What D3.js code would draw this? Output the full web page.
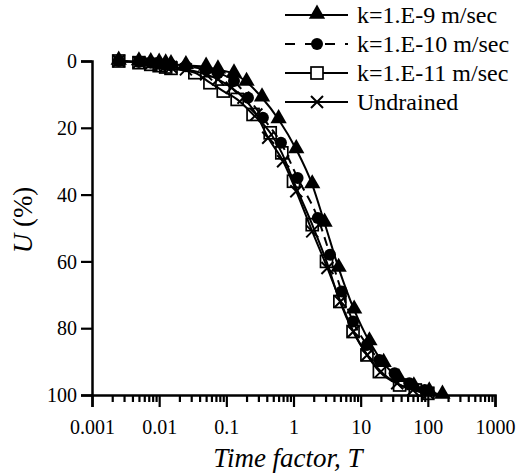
<!DOCTYPE html>
<html lang="en">
    <head>
        <meta charset="utf-8">
        <title>Degree of consolidation</title>
        <script type="text/javascript" src="https://cdnjs.cloudflare.com/ajax/libs/d3/7.8.5/d3.min.js"></script>
        <style type="text/css">
            body { margin: 0; background: #fff; }
        </style>
    </head>
    <body>
        <script type="text/javascript">
            // data: [time factor T, U (%)]
            var seriesNames = ["k=1.E-9 m/sec", "k=1.E-10 m/sec", "k=1.E-11 m/sec", "Undrained"];

            var k9 = [[0.0025,0],[0.005,0.2],[0.0075,0.4],[0.01,0.6],[0.0125,0.8],[0.015,1],[0.025,1.3],
                      [0.05,1.8],[0.075,2.6],[0.13,3.8],[0.2,6.3],[0.34,11],[0.6,17.5],[1.1,26.5],[1.9,37],
                      [2.9,48.5],[4.7,62],[8,74.5],[13.5,84],[22,90.5],[37,95],[62,97.5],[105,99],[165,100]];

            var k10 = [[0.0025,0],[0.005,0.3],[0.0075,0.5],[0.01,0.8],[0.0125,1],[0.015,1.2],[0.025,1.6],
                       [0.05,2.6],[0.075,3.6],[0.13,6],[0.21,11],[0.35,17],[0.65,24.5],[1.15,35],[2.3,47],
                       [3.5,58],[5.2,69],[7.7,78],[12.4,85],[19,89.5],[32,93.5],[53,96.5],[90,98.5]];

            var k11 = [[0.0025,0],[0.005,0.5],[0.0075,1],[0.01,1.4],[0.0125,1.8],[0.015,2.2],[0.034,3.5],
                       [0.057,6.5],[0.09,9],[0.145,11.5],[0.25,16],[0.45,21.5],[0.67,27.5],[1.0,36],[1.9,49],
                       [3.1,60],[4.9,72],[7.7,81],[12.4,88],[19,93],[38,97],[65,98.5],[100,99.5]];

            var undrained = [[0.0025,0],[0.005,0.4],[0.0075,0.8],[0.01,1.2],[0.0125,1.5],[0.015,1.8],[0.025,2.5],
                             [0.05,4],[0.075,5.5],[0.12,8],[0.18,11],[0.28,16],[0.42,23],[0.7,30],[1.1,39],
                             [1.9,51],[3.2,62],[5,72],[7.8,81],[12.5,88],[20,93],[35,96.5],[60,98.5],[100,99.5]];

            var xTicks = [0.001, 0.01, 0.1, 1, 10, 100, 1000];
            var xTickLabels = ["0.001", "0.01", "0.1", "1", "10", "100", "1000"];
            var yTicks = [0, 20, 40, 60, 80, 100];

            var w = 526;
            var h = 476;

            var svg = d3.select("body")
                        .append("svg")
                        .attr("width", w)
                        .attr("height", h)
                        .attr("font-family", "Liberation Serif");

            var x = d3.scaleLog().domain([0.001, 1000]).range([92, 495]);
            var y = d3.scaleLinear().domain([0, 100]).range([61, 395]);

            // y axis
            var yAxis = svg.append("g")
                .attr("transform", "translate(92,0)")
                .call(d3.axisLeft(y).tickValues(yTicks).tickSize(11).tickPadding(4).tickFormat(d3.format("d")));
            yAxis.selectAll("text").attr("font-size", "20px").attr("dy", "0.33em");

            // x axis: minor ticks then majors with labels
            var minor = x.ticks().filter(function (d) { return xTicks.indexOf(d) < 0; });
            svg.append("g")
                .attr("transform", "translate(0,395)")
                .call(d3.axisBottom(x).tickValues(minor).tickSize(7).tickFormat(""))
                .select(".domain").remove();
            var xAxis = svg.append("g")
                .attr("transform", "translate(0,395)")
                .call(d3.axisBottom(x).tickValues(xTicks).tickSize(12).tickPadding(13)
                      .tickFormat(function (d, i) { return xTickLabels[i]; }));
            xAxis.selectAll("text").attr("font-size", "20px");

            // the axis generator puts sans-serif on its groups; drop it
            svg.selectAll("g").attr("font-family", null);

            svg.selectAll(".domain").attr("stroke-width", 2.5);
            svg.selectAll(".tick line").attr("stroke-width", 2.2);

            // axis titles
            svg.append("text")
                .attr("x", 288)
                .attr("y", 467)
                .attr("text-anchor", "middle")
                .attr("font-size", "27px")
                .attr("font-style", "italic")
                .text("Time factor, T");

            var yTitle = svg.append("text")
                .attr("transform", "translate(32,220) rotate(-90)")
                .attr("text-anchor", "middle")
                .attr("font-size", "27px");
            yTitle.append("tspan").attr("font-style", "italic").text("U");
            yTitle.append("tspan").text(" (%)");

            // markers
            function drawMarker(g, type, cx, cy) {
                if (type === "triangle") {
                    g.append("path")
                        .attr("d", d3.symbol().type(d3.symbolTriangle).size(115)())
                        .attr("transform", "translate(" + cx + "," + (cy - 1) + ")")
                        .attr("fill", "#000");
                } else if (type === "circle") {
                    g.append("circle").attr("cx", cx).attr("cy", cy).attr("r", 6).attr("fill", "#000");
                } else if (type === "square") {
                    g.append("rect").attr("x", cx - 6).attr("y", cy - 6).attr("width", 12).attr("height", 12)
                        .attr("fill", "none").attr("stroke", "#000").attr("stroke-width", 1.7);
                } else {
                    g.append("path")
                        .attr("d", "M-6,-6L6,6M-6,6L6,-6")
                        .attr("transform", "translate(" + cx + "," + cy + ")")
                        .attr("stroke", "#000").attr("stroke-width", 2).attr("fill", "none");
                }
            }

            var series = [
                { data: k9, marker: "triangle", dash: null },
                { data: k10, marker: "circle", dash: "9,6" },
                { data: k11, marker: "square", dash: null },
                { data: undrained, marker: "cross", dash: null }
            ];

            var line = d3.line()
                .x(function (d) { return x(d[0]); })
                .y(function (d) { return y(d[1]); })
                .curve(d3.curveMonotoneX);

            series.forEach(function (s) {
                var g = svg.append("g");
                g.append("path")
                    .datum(s.data)
                    .attr("d", line)
                    .attr("fill", "none")
                    .attr("stroke", "#000")
                    .attr("stroke-width", 2)
                    .attr("stroke-dasharray", s.dash);
                s.data.forEach(function (d) {
                    drawMarker(g, s.marker, x(d[0]), y(d[1]));
                });
            });

            // legend
            var legendY = [15, 44, 73, 102];
            series.forEach(function (s, i) {
                var g = svg.append("g");
                g.append("line")
                    .attr("x1", 285).attr("x2", 348)
                    .attr("y1", legendY[i]).attr("y2", legendY[i])
                    .attr("stroke", "#000")
                    .attr("stroke-width", 2)
                    .attr("stroke-dasharray", s.dash ? "10,10" : null);
                if (s.marker === "square") {
                    g.append("rect").attr("x", 311).attr("y", legendY[i] - 6).attr("width", 12).attr("height", 12)
                        .attr("fill", "#fff").attr("stroke", "#000").attr("stroke-width", 1.7);
                } else {
                    drawMarker(g, s.marker, 317, legendY[i]);
                }
                g.append("text")
                    .attr("x", 357)
                    .attr("y", legendY[i] + 8)
                    .attr("font-size", "24px")
                    .text(seriesNames[i]);
            });

            svg.selectAll("text")
                .attr("font-family", "Liberation Serif")
                .attr("fill", "#000");
        </script>
    </body>
</html>
